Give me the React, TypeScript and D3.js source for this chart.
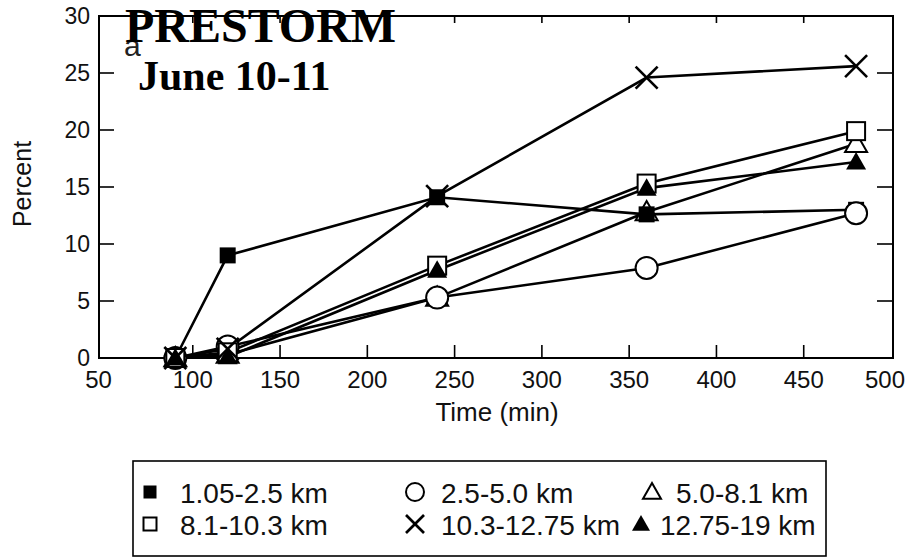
import React from "react";
import * as d3 from "d3";

const times = [90, 120, 240, 360, 480];
const s105_25 = [0, 9.0, 14.1, 12.6, 13.0];
const s25_50 = [0, 1.0, 5.3, 7.9, 12.7];
const s50_81 = [0, 0.3, 5.3, 12.8, 18.8];
const s81_103 = [0, 0.5, 8.1, 15.3, 19.9];
const s103_1275 = [0, 0.8, 14.2, 24.6, 25.6];
const s1275_19 = [0, 0.1, 7.7, 14.9, 17.2];

const xTicks = [50, 100, 150, 200, 250, 300, 350, 400, 450, 500];
const yTicks = [0, 5, 10, 15, 20, 25, 30];

type Mk = "fsquare" | "circle" | "otri" | "osquare" | "x" | "ftri";

const seriesList: { name: string; values: number[]; marker: Mk }[] = [
  { name: "5.0-8.1 km", values: s50_81, marker: "otri" },
  { name: "1.05-2.5 km", values: s105_25, marker: "fsquare" },
  { name: "2.5-5.0 km", values: s25_50, marker: "circle" },
  { name: "8.1-10.3 km", values: s81_103, marker: "osquare" },
  { name: "12.75-19 km", values: s1275_19, marker: "ftri" },
  { name: "10.3-12.75 km", values: s103_1275, marker: "x" },
];

const legendRows: { name: string; marker: Mk }[][] = [
  [
    { name: "1.05-2.5 km", marker: "fsquare" },
    { name: "2.5-5.0 km", marker: "circle" },
    { name: "5.0-8.1 km", marker: "otri" },
  ],
  [
    { name: "8.1-10.3 km", marker: "osquare" },
    { name: "10.3-12.75 km", marker: "x" },
    { name: "12.75-19 km", marker: "ftri" },
  ],
];

function Marker({ type, x, y, s }: { type: Mk; x: number; y: number; s: number }) {
  const h = s / 2;
  switch (type) {
    case "fsquare":
      return <rect x={x - h} y={y - h} width={s} height={s} fill="#000" />;
    case "osquare":
      return <rect x={x - h} y={y - h} width={s} height={s} fill="#fff" stroke="#000" strokeWidth={2} />;
    case "circle":
      return <circle cx={x} cy={y} r={h} fill="#fff" stroke="#000" strokeWidth={2} />;
    case "otri":
      return (
        <polygon
          points={`${x},${y - h} ${x + h},${y + h * 0.75} ${x - h},${y + h * 0.75}`}
          fill="#fff"
          stroke="#000"
          strokeWidth={2}
        />
      );
    case "ftri":
      return (
        <polygon
          points={`${x},${y - h} ${x + h},${y + h * 0.75} ${x - h},${y + h * 0.75}`}
          fill="#000"
        />
      );
    case "x":
      return (
        <g stroke="#000" strokeWidth={2.6}>
          <line x1={x - h} y1={y - h} x2={x + h} y2={y + h} />
          <line x1={x - h} y1={y + h} x2={x + h} y2={y - h} />
        </g>
      );
  }
}

const markerSize: Record<Mk, number> = {
  fsquare: 16,
  osquare: 18,
  circle: 22,
  otri: 22,
  ftri: 20,
  x: 22,
};

export default function App() {
  const W = 911;
  const H = 558;
  const frameLeft = 99;
  const frameRight = 893;
  const top = 16;
  const bottom = 358;
  const x = d3.scaleLinear().domain([50, 500]).range([105.5, 891]);
  const y = d3.scaleLinear().domain([0, 30]).range([bottom, top]);
  const line = d3
    .line<number>()
    .x((_, i) => x(times[i]))
    .y((d) => y(d));
  const sans = "Liberation Sans, Arial, sans-serif";
  const serif = "Liberation Serif, Times New Roman, serif";

  const legendMarkerX = [
    [150, 415, 652],
    [150, 415, 641],
  ];
  const legendTextX = [
    [180, 441, 676],
    [180, 441, 660],
  ];
  const legendRowY = [493, 525];
  const xLabelShift = (t: number) => (t === 50 ? -7 : t === 500 ? -6 : 0);

  return (
    <svg
      width={W}
      height={H}
      style={{ position: "absolute", left: 0, top: 0, background: "#fff" }}
    >
      <rect x={0} y={0} width={W} height={H} fill="#fff" />
      {/* frame */}
      <rect x={frameLeft} y={top} width={frameRight - frameLeft} height={bottom - top} fill="none" stroke="#000" strokeWidth={2} />
      {/* x ticks */}
      {xTicks.map((t) => (
        <g key={"xt" + t}>
          {t > 50 && t < 500 && (
            <>
              <line x1={x(t)} x2={x(t)} y1={bottom} y2={bottom - 13} stroke="#000" strokeWidth={1.6} />
              <line x1={x(t)} x2={x(t)} y1={top} y2={top + 7} stroke="#000" strokeWidth={1.6} />
            </>
          )}
          <text x={x(t) + xLabelShift(t)} y={388} textAnchor="middle" fontFamily={sans} fontSize={24} fill="#111">
            {t}
          </text>
        </g>
      ))}
      {/* y ticks */}
      {yTicks.map((t) => (
        <g key={"yt" + t}>
          {t > 0 && t < 30 && (
            <>
              <line x1={frameLeft} x2={frameLeft + 15} y1={y(t)} y2={y(t)} stroke="#000" strokeWidth={1.6} />
              <line x1={frameRight} x2={frameRight - 16} y1={y(t)} y2={y(t)} stroke="#000" strokeWidth={1.6} />
            </>
          )}
          <text x={90} y={y(t) + 8} textAnchor="end" fontFamily={sans} fontSize={23} fill="#111">
            {t}
          </text>
        </g>
      ))}
      {/* axis titles */}
      <text
        transform={`translate(31,184) rotate(-90)`}
        textAnchor="middle"
        fontFamily={sans}
        fontSize={25}
        fill="#111"
      >
        Percent
      </text>
      <text x={497} y={421} textAnchor="middle" fontFamily={sans} fontSize={26} fill="#111">
        Time (min)
      </text>

      {/* lines */}
      {seriesList.map((s) => (
        <path key={"l" + s.name} d={line(s.values) || ""} fill="none" stroke="#000" strokeWidth={2.6} />
      ))}
      {/* markers */}
      {seriesList.map((s) => (
        <g key={"m" + s.name}>
          {s.values.map((v, i) => (
            <Marker key={i} type={s.marker} x={x(times[i])} y={y(v)} s={markerSize[s.marker]} />
          ))}
        </g>
      ))}

      {/* panel label and titles */}
      <text x={124} y={56} fontFamily={sans} fontSize={30} fill="#222">
        a
      </text>
      <text x={125} y={42} fontFamily={serif} fontWeight="bold" fontSize={48} fill="#000">
        PRESTORM
      </text>
      <text x={138} y={90} fontFamily={serif} fontWeight="bold" fontSize={42} fill="#000">
        June 10-11
      </text>

      {/* legend */}
      <rect x={133} y={461} width={693} height={95} fill="none" stroke="#000" strokeWidth={1.6} />
      {legendRows.map((row, ri) =>
        row.map((e, ci) => (
          <g key={"lg" + ri + ci}>
            <Marker
              type={e.marker}
              x={legendMarkerX[ri][ci]}
              y={legendRowY[ri] - 1}
              s={e.marker === "fsquare" || e.marker === "osquare" ? 13 : 18}
            />
            <text x={legendTextX[ri][ci]} y={legendRowY[ri] + 10} fontFamily={sans} fontSize={28} fill="#111">
              {e.name}
            </text>
          </g>
        ))
      )}
    </svg>
  );
}
